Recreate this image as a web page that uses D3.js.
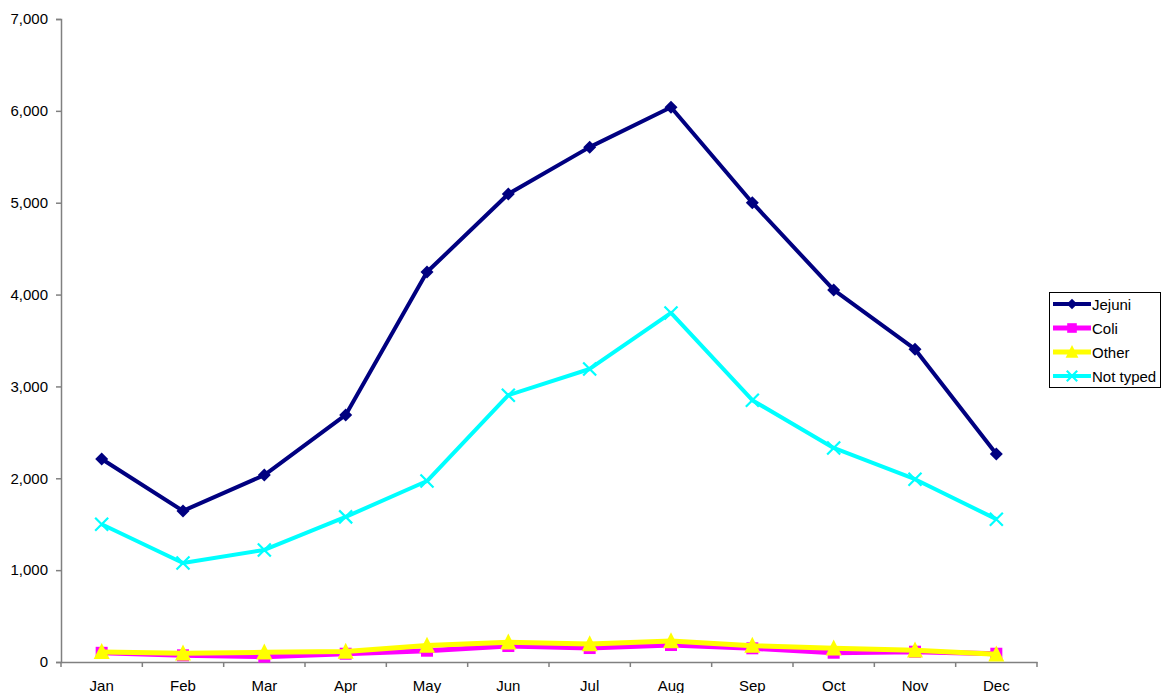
<!DOCTYPE html>
<html>
<head>
<meta charset="utf-8">
<script src="https://cdn.jsdelivr.net/npm/d3@7"></script>
<style>
  html, body { margin: 0; padding: 0; background: #fff; }
  text { font-family: "Liberation Sans", Arial, sans-serif; }
</style>
</head>
<body>
<svg id="chart" width="1162" height="693"></svg>
<script>
// Monthly counts by species
const months = ["Jan","Feb","Mar","Apr","May","Jun","Jul","Aug","Sep","Oct","Nov","Dec"];
const jejuni   = [2210, 1645, 2035, 2690, 4245, 5095, 5605, 6040, 5000, 4050, 3405, 2265];
const coli     = [100, 73, 58, 90, 123, 174, 152, 185, 149, 101, 112, 90];
const other    = [110, 95, 105, 115, 180, 215, 195, 228, 178, 150, 128, 85];
const notTyped = [1500, 1078, 1220, 1580, 1970, 2905, 3190, 3800, 2850, 2330, 1990, 1555];
const yTicks   = [0, 1000, 2000, 3000, 4000, 5000, 6000, 7000];

const series = [
  { name: "Jejuni",    values: jejuni,   color: "#000080", marker: "diamond",  width: 4 },
  { name: "Coli",      values: coli,     color: "#FF00FF", marker: "square",   width: 5 },
  { name: "Other",     values: other,    color: "#FFFF00", marker: "triangle", width: 5 },
  { name: "Not typed", values: notTyped, color: "#00FFFF", marker: "cross",    width: 4 }
];

const svg = d3.select("#chart");
const plotLeft = 61, plotRight = 1037, plotTop = 19, plotBottom = 662;

const x = d3.scaleBand().domain(months).range([plotLeft, plotRight]);
const y = d3.scaleLinear().domain([0, 7000]).range([plotBottom, plotTop]);

const axisColor = "#808080";
const fmt = d3.format(",");
const fontSize = "15px";

// y axis
const yAxis = svg.append("g").attr("transform", `translate(${plotLeft},0)`)
  .call(d3.axisLeft(y).tickValues(yTicks).tickFormat(fmt).tickSize(5).tickPadding(8));
// x axis with ticks on category boundaries
const xAxis = svg.append("g").attr("transform", `translate(0,${plotBottom})`)
  .call(d3.axisBottom(x).tickSize(0).tickPadding(18));
[yAxis, xAxis].forEach(g => {
  g.select(".domain").attr("stroke", axisColor).attr("stroke-width", 1.5);
  g.selectAll(".tick line").attr("stroke", axisColor).attr("stroke-width", 1.5);
  g.selectAll("text").attr("fill", "#000").style("font-size", fontSize)
    .style("font-family", "'Liberation Sans', Arial, sans-serif");
});
xAxis.selectAll(".bound").data(d3.range(months.length + 1)).enter().append("line")
  .attr("x1", i => plotLeft + i * x.step()).attr("x2", i => plotLeft + i * x.step())
  .attr("y1", 0).attr("y2", 5).attr("stroke", axisColor).attr("stroke-width", 1.5);

const cx = m => x(m) + x.bandwidth() / 2;

function drawMarker(g, type, color, px, py, s) {
  if (type === "diamond") {
    g.append("path").attr("d", `M${px},${py - s}L${px + s},${py}L${px},${py + s}L${px - s},${py}Z`).attr("fill", color);
  } else if (type === "square") {
    g.append("rect").attr("x", px - s).attr("y", py - s).attr("width", 2 * s).attr("height", 2 * s).attr("fill", color);
  } else if (type === "triangle") {
    g.append("path").attr("d", `M${px},${py - s * 1.1}L${px + s},${py + s * 0.9}L${px - s},${py + s * 0.9}Z`).attr("fill", color);
  } else if (type === "cross") {
    g.append("path").attr("d", `M${px - s},${py - s}L${px + s},${py + s}M${px - s},${py + s}L${px + s},${py - s}`)
      .attr("stroke", color).attr("stroke-width", 2.2).attr("fill", "none");
  }
}
const markerSize = { diamond: 6.5, square: 6, triangle: 8, cross: 6.5 };

const line = d3.line().x((d, i) => cx(months[i])).y(d => y(d));

// draw lines and markers (order so yellow sits above magenta)
const drawOrder = [series[1], series[2], series[3], series[0]];
drawOrder.forEach(s => {
  const g = svg.append("g");
  g.append("path").datum(s.values).attr("d", line)
    .attr("fill", "none").attr("stroke", s.color).attr("stroke-width", s.width)
    .attr("stroke-linejoin", "round");
  s.values.forEach((v, i) => drawMarker(g, s.marker, s.color, cx(months[i]), y(v), markerSize[s.marker]));
});

// legend
const lg = svg.append("g");
lg.append("rect").attr("x", 1049.5).attr("y", 292.5).attr("width", 111).attr("height", 95)
  .attr("fill", "#fff").attr("stroke", "#000").attr("stroke-width", 1);
series.forEach((s, i) => {
  const ly = 304 + i * 24;
  lg.append("line").attr("x1", 1053).attr("x2", 1091).attr("y1", ly).attr("y2", ly)
    .attr("stroke", s.color).attr("stroke-width", s.width);
  drawMarker(lg, s.marker, s.color, 1072, ly, markerSize[s.marker] * 0.8);
  lg.append("text").attr("x", 1092).attr("y", ly + 5.5).text(s.name)
    .style("font-size", fontSize).attr("fill", "#000");
});
</script>
</body>
</html>
